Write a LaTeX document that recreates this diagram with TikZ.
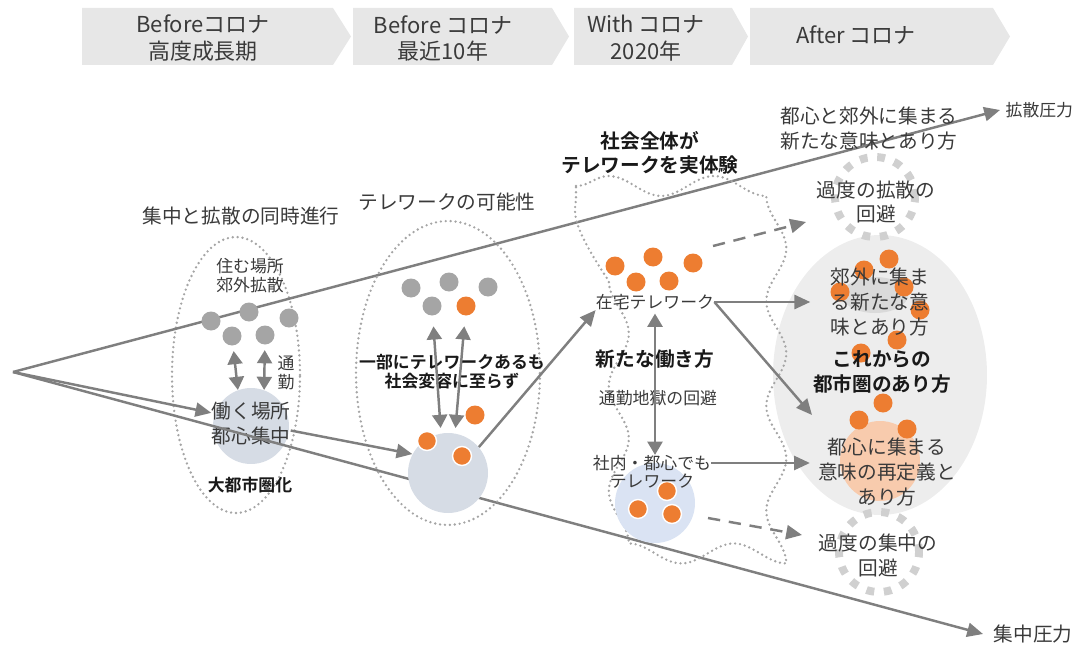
\documentclass[tikz,border=0pt]{standalone}
\usepackage{fontspec}
\setmainfont{Noto Sans CJK JP}[BoldFont={Noto Sans CJK JP Bold}]
\usetikzlibrary{arrows.meta,positioning,decorations.pathmorphing}
\definecolor{hdgray}{HTML}{E7E7E7}
\definecolor{lngray}{HTML}{7F7F7F}
\definecolor{dtgray}{HTML}{A5A5A5}
\definecolor{orng}{HTML}{ED7D31}
\definecolor{cityblue}{HTML}{D6DCE5}
\definecolor{skyblue}{HTML}{DAE3F3}
\definecolor{peach}{HTML}{F8CBAD}
\definecolor{fogray}{HTML}{EDEDED}
\definecolor{patchgray}{HTML}{DADADA}
\definecolor{ringgray}{HTML}{D0D0D0}
\definecolor{txtgray}{HTML}{3A3A3A}

\begin{document}
\begin{tikzpicture}[x=0.02cm,y=-0.02cm,
      every node/.style={inner sep=0pt,align=center,text=txtgray},
      phase/.style={font=\fontsize{12.5}{15.3}\selectfont},
      big/.style={font=\fontsize{11.2}{14}\selectfont},
      small/.style={font=\fontsize{9.6}{10.8}\selectfont},
      bigb/.style={font=\fontsize{11.2}{14}\selectfont\bfseries,text=black!90},
      smallb/.style={font=\fontsize{9.6}{10.8}\selectfont\bfseries,text=black!90},
      gdot/.style={circle,fill=dtgray,minimum size=0.38cm},
      odot/.style={circle,fill=orng,minimum size=0.38cm},
      odotw/.style={odot,draw=white,line width=0.8pt},
      dotline/.style={draw=dtgray,line width=1.5pt,line cap=round,dash pattern=on 0pt off 2.8pt},
      haloring/.style={circle,draw=ringgray,line width=4.5pt,dash pattern=on 4.5pt off 5.5pt,minimum size=1.6cm},
      arr/.style={draw=lngray,line width=1.4pt,-{Triangle[length=9pt,width=8pt]}},
      twoway/.style={draw=lngray,line width=1.4pt,{Triangle[length=7.5pt,width=8.5pt]}-{Triangle[length=7.5pt,width=8.5pt]}},
      dasharr/.style={arr,dash pattern=on 7pt off 5pt}]
  \useasboundingbox (0,0) rectangle (1077,652);

  % phases
  \foreach \a/\b/\c in {82/333/351,353/552/569,574/732/748,750/993/1010}
    \fill[hdgray] (\a,8) -- (\b,8) -- (\c,36.5) -- (\b,65) -- (\a,65) -- cycle;
  \node[phase] (h1) at (203,38.5) {Beforeコロナ\\高度成長期};
  \node[phase] (h2) at (443,38.5) {Before コロナ\\最近10年};
  \node[phase] (h3) at (646,38.5) {With コロナ\\2020年};
  \node[phase] (h4) at (856,35) {After コロナ};

  % after corona background
  \fill[fogray] (880,375) ellipse [x radius=2.14cm,y radius=2.8cm];
  \fill[patchgray] (875,295) ellipse [x radius=0.66cm,y radius=0.36cm];
  \node[circle,fill=peach,minimum size=1.6cm] (pc) at (880,461) {};

  % stage 1
  \draw[dotline] (236,375) ellipse [x radius=1.28cm,y radius=2.76cm];
  \node[circle,fill=cityblue,minimum size=1.52cm] (c1) at (251,426) {};
  \node[big] (t1) at (251,423.5) {働く場所\\都心集中};

  % pressure
  \coordinate (src) at (13,372);
  \node[small,anchor=west,inner xsep=3pt] (kp) at (1000,110) {拡散圧力};
  \node[big,anchor=west,inner xsep=6pt] (sp) at (983,634) {集中圧力};
  \draw[arr] (src) -- (kp.west);
  \draw[arr] (src) -- (sp.west);
  \draw[arr] (src) -- (t1.165);

  % stage 2 and 3
  \draw[dotline] (448,373) ellipse [x radius=1.84cm,y radius=3.04cm];
  \node[circle,fill=cityblue,minimum size=1.6cm] (c2) at (448,473) {};
  \draw[dotline,decorate,decoration={snake,segment length=2.1cm,amplitude=0.2cm}]
    (576,186) -- (743,186) -- (743,530) -- (576,530) -- cycle;
  \node[circle,fill=skyblue,minimum size=1.6cm] (c3) at (655,503) {};
  \node[haloring] (r1) at (875,197) {};
  \node[haloring] (r2) at (879,552) {};

  % dots
  \foreach \x/\y [count=\i] in {211/321,249/312,289/318,232/336,265/335,411/288,449/282,488/287,432/306}
    \node[gdot] (g\i) at (\x,\y) {};
  \foreach \x/\y [count=\i] in {466/306,475/415,615/266,653/257,693/263,636/282,669/281,889/259,864/270,840/292,904/287,920/310,897/340,861/353,883/403,859/420,907/429}
    \node[odot] (y\i) at (\x,\y) {};
  \foreach \x/\y [count=\i] in {427/441,462/456,667/491,638/509,672/514}
    \node[odotw] (w\i) at (\x,\y) {};

  % texts
  \node[big] (q1) at (241,216) {集中と拡散の同時進行};
  \node[small] (q2) at (250,276) {住む場所\\郊外拡散};
  \node[small] (q3) at (286,373) {通\\勤};
  \node[smallb] (q4) at (250,485) {大都市圏化};
  \node[big] (q5) at (447,202) {テレワークの可能性};
  \node[smallb] (q6) at (452,372) {一部にテレワークあるも\\社会変容に至らず};
  \node[bigb] (q7) at (650,153) {社会全体が\\テレワークを実体験};
  \node[small] (zt) at (655,302) {在宅テレワーク};
  \node[bigb] (q8) at (655,359) {新たな働き方};
  \node[small] (q9) at (658,398) {通勤地獄の回避};
  \node[small] (sn1) at (652,463) {社内・都心でも};
  \node[small] (sn2) [below=1.2pt of sn1] {テレワーク};
  \node[big] (q10) at (869,128.5) {都心と郊外に集まる\\新たな意味とあり方};
  \node[big] (q11) at (876,202) {過度の拡散の\\回避};
  \node[big] (ku) at (880,302) {郊外に集ま\\る新たな意\\味とあり方};
  \node[bigb] (q12) at (882,372) {これからの\\都市圏のあり方};
  \node[big] (tk) at (887,472) {都心に集まる\\意味の再定義と\\あり方};
  \node[big] (q13) at (878,555.5) {過度の集中の\\回避};

  % arrows
  \draw[twoway,shorten <=3pt] (g4) -- (c1.110);
  \draw[twoway,shorten <=3pt] (g5) -- (c1.70);
  \draw[twoway,shorten <=6pt,shorten >=3pt] (g9) -- (c2.100);
  \draw[twoway,shorten <=6pt,shorten >=3pt] (y1) -- (c2.80);
  \draw[arr] (t1.-10) -- (c2.152);
  \draw[arr] (c2.40) -- (zt.south west);
  \draw[twoway,shorten <=2pt] (zt.south) -- (zt.south |- sn1.north);
  \coordinate (a1) at (812,415);
  \draw[arr,shorten >=11.5pt] (zt.east) -- (zt.east -| ku.west);
  \draw[arr] (zt.east) -- (a1);
  \draw[arr,shorten >=4.5pt] (sn1.east) -- (sn1.east -| tk.west);
  \coordinate (d1) at (713,246);
  \coordinate (d2) at (806,222);
  \coordinate (d3) at (708,518);
  \coordinate (d4) at (802,535);
  \draw[dasharr] (d1) -- (d2);
  \draw[dasharr] (d3) -- (d4);
\end{tikzpicture}
\end{document}
